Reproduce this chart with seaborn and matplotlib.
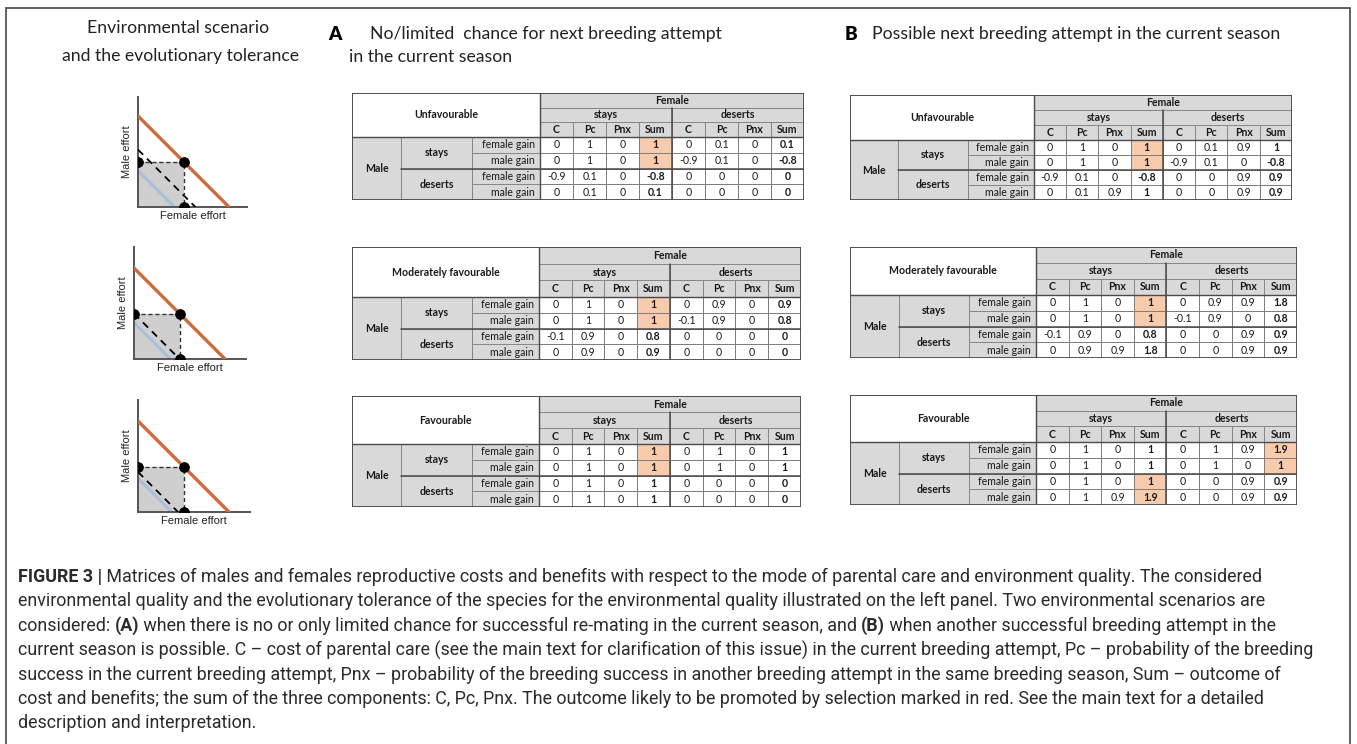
import numpy as np
import pandas as pd
import seaborn as sns
import matplotlib.pyplot as plt
from matplotlib.colors import ListedColormap
from matplotlib.patches import Rectangle

W, H = 1357, 744

# ---- table values (rows: male stays fg, mg, male deserts fg, mg ; cols: C Pc Pnx Sum x2)
a_unfav = [[0, 1, 0, 1, 0, 0.1, 0, 0.1],
           [0, 1, 0, 1, -0.9, 0.1, 0, -0.8],
           [-0.9, 0.1, 0, -0.8, 0, 0, 0, 0],
           [0, 0.1, 0, 0.1, 0, 0, 0, 0]]
a_mod = [[0, 1, 0, 1, 0, 0.9, 0, 0.9],
         [0, 1, 0, 1, -0.1, 0.9, 0, 0.8],
         [-0.1, 0.9, 0, 0.8, 0, 0, 0, 0],
         [0, 0.9, 0, 0.9, 0, 0, 0, 0]]
a_fav = [[0, 1, 0, 1, 0, 1, 0, 1],
         [0, 1, 0, 1, 0, 1, 0, 1],
         [0, 1, 0, 1, 0, 0, 0, 0],
         [0, 1, 0, 1, 0, 0, 0, 0]]
b_unfav = [[0, 1, 0, 1, 0, 0.1, 0.9, 1],
           [0, 1, 0, 1, -0.9, 0.1, 0, -0.8],
           [-0.9, 0.1, 0, -0.8, 0, 0, 0.9, 0.9],
           [0, 0.1, 0.9, 1, 0, 0, 0.9, 0.9]]
b_mod = [[0, 1, 0, 1, 0, 0.9, 0.9, 1.8],
         [0, 1, 0, 1, -0.1, 0.9, 0, 0.8],
         [-0.1, 0.9, 0, 0.8, 0, 0, 0.9, 0.9],
         [0, 0.9, 0.9, 1.8, 0, 0, 0.9, 0.9]]
b_fav = [[0, 1, 0, 1, 0, 1, 0.9, 1.9],
         [0, 1, 0, 1, 0, 1, 0, 1],
         [0, 1, 0, 1, 0, 0, 0.9, 0.9],
         [0, 1, 0.9, 1.9, 0, 0, 0.9, 0.9]]
# highlighted (selected) cells
a_marks = [(0, 3), (1, 3)]
b_fav_marks = [(0, 7), (1, 7), (2, 3), (3, 3)]

scenarios = ["Unfavourable", "Moderately favourable", "Favourable"]
col_labels = ["C", "Pc", "Pnx", "Sum", "C", "Pc", "Pnx", "Sum"]
choices = ["stays", "deserts"]
gains = ["female gain", "male gain", "female gain", "male gain"]

# ---- diagram values (x + y = level lines)
orange_level = [1.0, 1.0, 1.0]
dashed_level = [0.63, 0.5, 0.44]
blue_level = [0.4, 0.4, 0.37]
dot_level = [0.5, 0.5, 0.5]

sns.set_theme(style="white")
plt.rcParams['font.family'] = ['Lato', 'DejaVu Sans']

fig = plt.figure(figsize=(W / 100, H / 100), dpi=100)
fig.patch.set_facecolor('white')


def px_axes(x0, y0, x1, y1):
    return fig.add_axes([x0 / W, 1 - y1 / H, (x1 - x0) / W, (y1 - y0) / H])


GRAY = '#d9d9d9'
EDGE = '#7f7f7f'
DARK = '#4a4a4a'
FS = 7.6


def draw_table(box, head_px, title, values, marks):
    x0, y0, x1, y1 = box
    ax = px_axes(x0, y0, x1, y1)
    row_px = (y1 - y0 - head_px) / 4
    hd = head_px / row_px
    L = 5.7
    hl = np.zeros((4, 8))
    for r, c in marks:
        hl[r, c] = 1
    labels = np.array([[f"{v:g}" for v in row] for row in values])
    sns.heatmap(hl, ax=ax, cmap=ListedColormap(['white', '#f8cbad']), vmin=0, vmax=1,
                cbar=False, annot=labels, fmt='', linewidths=0.6, linecolor=EDGE,
                annot_kws=dict(fontsize=FS, color='#1a1a1a'),
                xticklabels=False, yticklabels=False)
    for t in ax.texts:
        if t.get_position()[0] in (3.5, 7.5):
            t.set_fontweight('bold')
    ax.set_xlim(-L, 8)
    ax.set_ylim(4, -hd)
    for s in ax.spines.values():
        s.set_visible(False)

    def cell(x, y, w, h, txt, fc=GRAY, bold=True, ha='center'):
        ax.add_patch(Rectangle((x, y), w, h, facecolor=fc, edgecolor=EDGE, lw=0.6, zorder=3))
        tx = x + w / 2 if ha == 'center' else x + w - 0.15
        ax.text(tx, y + h / 2, txt, ha=ha, va='center', fontsize=FS,
                fontweight='bold' if bold else 'normal', color='#1a1a1a', zorder=4)

    r = hd / 3
    cell(-L, -hd, L, hd, title, fc='white')
    cell(0, -hd, 8, r, "Female")
    for k, ch in enumerate(choices):
        cell(4 * k, -2 * r, 4, r, ch)
    for k, cl in enumerate(col_labels):
        cell(k, -r, 1, r, cl)
    cell(-L, 0, 1.5, 4, "Male")
    for k, ch in enumerate(choices):
        cell(-L + 1.5, 2 * k, 2.15, 2, ch)
    for k, g in enumerate(gains):
        cell(-2.05, k, 2.05, 1, g, bold=False, ha='right')
    # heavier separators
    ax.plot([4, 4], [-2 * r, 4], color=DARK, lw=1.1, zorder=5)
    ax.plot([-L + 1.5, 8], [2, 2], color=DARK, lw=1.1, zorder=5)
    ax.plot([0, 0], [-hd, 4], color=DARK, lw=1.0, zorder=5)
    ax.plot([-L, 8], [0, 0], color=DARK, lw=1.0, zorder=5)
    ax.add_patch(Rectangle((-L, -hd), L + 8, 4 + hd, fill=False, edgecolor=DARK, lw=1.3, zorder=6))


# panel A tables
draw_table((352, 93, 804, 200), 44, scenarios[0], a_unfav, a_marks)
draw_table((352, 247, 801, 360), 50, scenarios[1], a_mod, a_marks)
draw_table((352, 396, 801, 507), 48, scenarios[2], a_fav, a_marks)
# panel B tables
draw_table((850, 95, 1292, 200), 45, scenarios[0], b_unfav, a_marks)
draw_table((850, 247, 1297, 358), 48, scenarios[1], b_mod, a_marks)
draw_table((850, 395, 1297, 505), 47, scenarios[2], b_fav, b_fav_marks)

# ---- left diagrams
diag_boxes = [(138, 97, 247, 207), (134, 247, 246, 359), (138, 400, 250, 512)]
for i, (bx0, by0, bx1, by1) in enumerate(diag_boxes):
    ax = px_axes(bx0, by0, bx1, by1)
    d = dot_level[i]
    ax.add_patch(Rectangle((0, 0), d, d, facecolor='#cfcfcf', edgecolor='none', zorder=1))
    line_kw = dict(ax=ax, sort=False, estimator=None)
    sns.lineplot(x=[0, blue_level[i]], y=[blue_level[i], 0], color='#a8bfdc', lw=2.2, zorder=2, **line_kw)
    sns.lineplot(x=[0, orange_level[i]], y=[orange_level[i], 0], color='#d2693c', lw=2.4, zorder=3, **line_kw)
    sns.lineplot(x=[0, dashed_level[i]], y=[dashed_level[i], 0], color='black', lw=1.3,
                 linestyle=(0, (4, 3)), zorder=4, **line_kw)
    sns.lineplot(x=[0, d, d], y=[d, d, 0], color='#333333', lw=1.0, linestyle=(0, (3, 2)),
                 zorder=4, **line_kw)
    sns.scatterplot(x=[d, 0, d], y=[d, d, 0], ax=ax, color='black', s=50, zorder=6,
                    edgecolor='black', clip_on=True)
    ax.set_xlim(0, (bx1 - bx0) / 91)
    ax.set_ylim(0, (by1 - by0) / 91)
    ax.set_xticks([])
    ax.set_yticks([])
    for s in ['top', 'right']:
        ax.spines[s].set_visible(False)
    for s in ['left', 'bottom']:
        ax.spines[s].set_color('#555555')
        ax.spines[s].set_linewidth(1.4)
    ax.set_xlabel("Female effort", fontsize=8, family='Liberation Sans', labelpad=3, color='#222')
    ax.set_ylabel("Male effort", fontsize=8, family='Liberation Sans', labelpad=4, color='#222')

# ---- headings
def ftext(x, y, s, **kw):
    return fig.text(x / W, 1 - y / H, s, va='center', **kw)

HS = 12.7
ftext(178, 28, "Environmental scenario", ha='center', fontsize=HS, color='#222')
ftext(180, 56, "and the evolutionary tolerance", ha='center', fontsize=HS, color='#222')
ftext(335, 34, "A", ha='center', fontsize=13.5, fontweight='heavy', color='black')
ftext(370, 34, "No/limited  chance for next breeding attempt", ha='left', fontsize=HS, color='#222')
ftext(349, 57, "in the current season", ha='left', fontsize=HS, color='#222')
ftext(851, 34, "B", ha='center', fontsize=13.5, fontweight='heavy', color='black')
ftext(872, 34, "Possible next breeding attempt in the current season", ha='left', fontsize=HS, color='#222')

# ---- caption
cap_lines = [
    [("FIGURE 3 |", True), (" Matrices of males and females reproductive costs and benefits with respect to the mode of parental care and environment quality. The considered", False)],
    [("environmental quality and the evolutionary tolerance of the species for the environmental quality illustrated on the left panel. Two environmental scenarios are", False)],
    [("considered: ", False), ("(A)", True), (" when there is no or only limited chance for successful re-mating in the current season, and ", False), ("(B)", True), (" when another successful breeding attempt in the", False)],
    [("current season is possible. C \u2013 cost of parental care (see the main text for clarification of this issue) in the current breeding attempt, Pc \u2013 probability of the breeding", False)],
    [("success in the current breeding attempt, Pnx \u2013 probability of the breeding success in another breeding attempt in the same breeding season, Sum \u2013 outcome of", False)],
    [("cost and benefits; the sum of the three components: C, Pc, Pnx. The outcome likely to be promoted by selection marked in red. See the main text for a detailed", False)],
    [("description and interpretation.", False)],
]
cap_y = [577, 601, 626, 650, 675, 699, 723]
renderer = fig.canvas.get_renderer()
for parts, y in zip(cap_lines, cap_y):
    x = 18
    for txt, bold in parts:
        t = ftext(x, y, txt, ha='left', fontsize=12.85, family=['Roboto', 'DejaVu Sans'],
                  fontweight='bold' if bold else 'normal', color='#2b2b2b')
        x += t.get_window_extent(renderer).width

# frame
fig.add_artist(Rectangle((6 / W, -0.01), 1344 / W, 1 - 8 / H + 0.01, transform=fig.transFigure,
                         fill=False, edgecolor='#555555', lw=1.3))

plt.savefig('out.png', dpi=100)
